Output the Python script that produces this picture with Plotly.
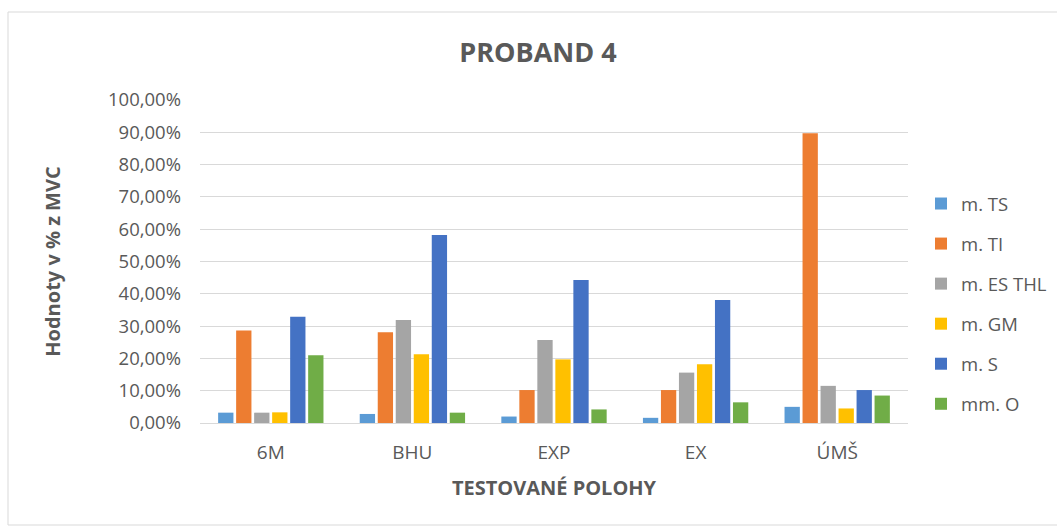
import plotly.graph_objects as go

# Test positions (x axis) and muscle series (% of MVC, as fractions)
categories = ["6M", "BHU", "EXP", "EX", "ÚMŠ"]

m_ts = [0.032, 0.028, 0.020, 0.016, 0.050]
m_ti = [0.286, 0.281, 0.102, 0.102, 0.897]
m_es_thl = [0.032, 0.319, 0.257, 0.156, 0.115]
m_gm = [0.033, 0.213, 0.197, 0.182, 0.045]
m_s = [0.329, 0.582, 0.443, 0.381, 0.102]
mm_o = [0.210, 0.032, 0.042, 0.064, 0.085]

series_names = ["m. TS", "m. TI", "m. ES THL", "m. GM", "m. S", "mm. O"]
series_values = [m_ts, m_ti, m_es_thl, m_gm, m_s, mm_o]
series_colors = ["#5B9BD5", "#ED7D31", "#A5A5A5", "#FFC000", "#4472C4", "#70AD47"]

FONT = "Open Sans"
TEXT_GREY = "#595959"

fig = go.Figure()
for name, vals, col in zip(series_names, series_values, series_colors):
    fig.add_trace(go.Bar(
        x=categories, y=vals, name=name, marker_color=col,
        marker_line_width=0, legendgroup=name,
    ))

W, H = 1057, 526
L, R, T, B = 200, 149, 100, 103
pw = W - L - R
ph = H - T - B

def px_x(v):
    return (v - L) / pw

def px_y(v):
    return (H - B - v) / ph

fig.update_layout(
    width=W, height=H,
    margin=dict(l=L, r=R, t=T, b=B, autoexpand=False),
    paper_bgcolor="white", plot_bgcolor="white",
    separators=", ",
    barmode="group", bargap=0.237, bargroupgap=0.15,
    font=dict(family=FONT, color=TEXT_GREY, size=18),
    title=dict(
        text="<b>PROBAND 4</b>", x=538 / W, xref="container", xanchor="center",
        y=1 - 53 / H, yref="container", yanchor="middle",
        font=dict(family=FONT, size=27, color=TEXT_GREY),
    ),
    xaxis=dict(
        showgrid=False, showline=True, linecolor="#D9D9D9", linewidth=1,
        ticks="", tickfont=dict(size=19, color=TEXT_GREY), ticklabelstandoff=12,
        title=dict(text="<b>TESTOVANÉ POLOHY</b>", standoff=17,
                   font=dict(size=20, color=TEXT_GREY)),
    ),
    yaxis=dict(
        range=[0, 1.0], dtick=0.1, tickformat=".2%",
        showgrid=True, gridcolor="#D9D9D9", gridwidth=1,
        zeroline=False, showline=False,
        tickfont=dict(size=18.5, color=TEXT_GREY), ticklabelstandoff=18,
        title=dict(text="<b>Hodnoty v % z MVC</b>", standoff=42,
                   font=dict(size=20, color=TEXT_GREY)),
    ),
    legend=dict(
        x=px_x(921), y=px_y(304), xanchor="left", yanchor="middle",
        font=dict(size=18.5, color=TEXT_GREY), tracegroupgap=13,
        bgcolor="rgba(0,0,0,0)",
    ),
    shapes=[dict(
        type="rect", xref="paper", yref="paper",
        x0=px_x(8), x1=px_x(1070), y0=px_y(525), y1=px_y(12),
        line=dict(color="#D9D9D9", width=1), fillcolor="rgba(0,0,0,0)",
        layer="below",
    )],
)

fig.write_html("out.html")
